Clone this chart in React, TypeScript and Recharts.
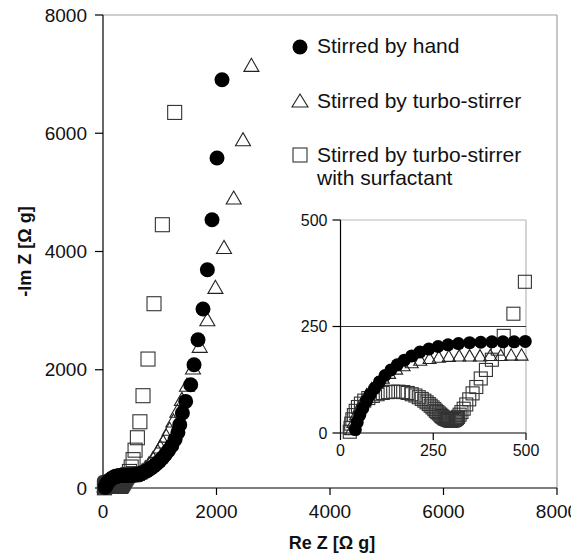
import React from 'react';
import { ScatterChart, Scatter, XAxis, YAxis, ReferenceLine, Legend } from 'recharts';

const FONT = '"Liberation Sans", Arial, Helvetica, sans-serif';

// ---- ticks & text ----
const mainXTicks = [0, 2000, 4000, 6000, 8000];
const mainYTicks = [0, 2000, 4000, 6000, 8000];
const insetTicks = [0, 250, 500];
const xTitle = 'Re Z [Ω g]';
const yTitle = '-Im Z [Ω g]';
const legendHand = 'Stirred by hand';
const legendTurbo = 'Stirred by turbo-stirrer';
const legendSurf1 = 'Stirred by turbo-stirrer';
const legendSurf2 = 'with surfactant';

// ---- Stirred by hand (filled circles) ----
const handRe = [
  40, 45, 52, 60, 70, 80, 92, 105, 120, 136, 153, 172, 192, 214, 238, 263, 290, 318, 348, 378, 408, 438, 468, 498,
  530, 565, 600, 640, 680, 720, 762, 805, 850, 897, 945, 995, 1047, 1100, 1155, 1212, 1270, 1320, 1352, 1399, 1457,
  1545, 1604, 1674, 1762, 1839, 1921, 2009, 2097,
];
const handIm = [
  8, 25, 42, 58, 75, 90, 105, 120, 135, 148, 160, 171, 181, 190, 197, 203, 207, 210, 212, 213, 214, 214, 214, 215,
  218, 222, 228, 237, 250, 266, 286, 310, 338, 371, 410, 455, 507, 567, 636, 715, 820, 940, 1070, 1268, 1465,
  1747, 2085, 2508, 3027, 3692, 4537, 5581, 6905,
];

// ---- Stirred by turbo-stirrer (open triangles) ----
const turboRe = [
  30, 35, 42, 50, 60, 71, 84, 98, 114, 131, 150, 170, 192, 215, 240, 265, 292, 320, 348, 376, 404, 432, 460, 488,
  520, 555, 595, 640, 690, 746, 810, 882, 965, 1010, 1060, 1115, 1175, 1240, 1310, 1390, 1480, 1586, 1704, 1839,
  1981, 2132, 2303, 2467, 2615,
];
const turboIm = [
  5, 22, 40, 56, 72, 87, 101, 114, 126, 137, 147, 155, 162, 168, 172, 175, 177, 178, 178, 178, 179, 179, 180, 180,
  182, 186, 200, 226, 264, 315, 383, 472, 592, 665, 750, 850, 965, 1105, 1270, 1470, 1710, 2001, 2368, 2818,
  3365, 4040, 4876, 5862, 7120,
];

// ---- Stirred by turbo-stirrer with surfactant (open squares) ----
const surfRe = [
  25, 27, 29, 32, 36, 41, 47, 55, 64, 75, 87, 100, 114, 128, 142, 156, 169, 181, 192, 202, 211, 219, 226, 232,
  238, 243, 248, 253, 257, 261, 265, 269, 272, 275, 278, 281, 284, 287, 290, 293, 296, 299, 302, 305, 308, 311,
  314, 317, 321, 326, 332, 339, 347, 356, 366, 378, 392, 408, 424, 440, 466, 497,
  530, 565, 606, 650, 705, 793, 899, 1046, 1263,
];
const surfIm = [
  3, 12, 22, 32, 42, 52, 61, 69, 76, 82, 87, 91, 94, 96, 97, 97, 96, 94, 91, 88, 84, 80, 76, 72,
  68, 64, 60, 56, 52, 49, 46, 43, 40, 38, 36, 34, 33, 32, 31, 30, 29, 29, 29, 30, 31, 33,
  35, 38, 43, 49, 57, 67, 79, 93, 108, 128, 148, 172, 198, 228, 280, 355,
  480, 640, 850, 1120, 1561, 2181, 3117, 4453, 6352,
];

const zip = (xs: number[], ys: number[]) => xs.map((x, i) => ({ x, y: ys[i] }));
const handData = zip(handRe, handIm);
const turboData = zip(turboRe, turboIm);
const surfData = zip(surfRe, surfIm);
const inInset = (d: { x: number; y: number }) => d.x <= 500 && d.y <= 500;
const handInset = handData.filter(inInset);
const turboInset = turboData.filter(inInset);
const surfInset = surfData.filter(inInset);

// ---- marker shapes ----
const makeCircle = (d: number) => (p: any) => <circle cx={p.cx} cy={p.cy} r={d / 2} fill="#000" />;
const makeTriangle = (w: number) => (p: any) => {
  const h = w * 0.87;
  const pts = `${p.cx},${p.cy - (2 * h) / 3} ${p.cx - w / 2},${p.cy + h / 3} ${p.cx + w / 2},${p.cy + h / 3}`;
  return <polygon points={pts} fill="none" stroke="#222" strokeWidth={1.1} />;
};
const makeSquare = (s: number) => (p: any) => (
  <rect x={p.cx - s / 2} y={p.cy - s / 2} width={s} height={s} fill="none" stroke="#333" strokeWidth={1.1} />
);

const tickStyle = (size: number) => ({ fontSize: size, fill: '#111', fontFamily: FONT });

const LegendBox = () => (
  <svg width={285} height={170} style={{ overflow: 'visible', fontFamily: FONT }}>
    <circle cx={10} cy={17} r={7.5} fill="#000" />
    <text x={27} y={23} fontSize={21} fill="#111">{legendHand}</text>
    <polygon points="10,64 2,77 18,77" fill="none" stroke="#222" strokeWidth={1.1} />
    <text x={27} y={78} fontSize={21} fill="#111">{legendTurbo}</text>
    <rect x={3} y={118} width={14} height={14} fill="none" stroke="#333" strokeWidth={1.1} />
    <text x={27} y={132} fontSize={21} fill="#111">{legendSurf1}</text>
    <text x={27} y={155} fontSize={21} fill="#111">{legendSurf2}</text>
  </svg>
);

export default function App() {
  return (
    <div style={{ position: 'relative', width: 571, height: 547, fontFamily: FONT }}>
      <style>{`.recharts-surface { overflow: visible !important; } .recharts-wrapper { overflow: visible !important; }`}</style>
      <ScatterChart width={571} height={547} margin={{ top: 7, right: 22, bottom: 0, left: 0 }}>
        <XAxis
          type="number"
          dataKey="x"
          domain={[0, 8000]}
          ticks={mainXTicks}
          interval={0}
          height={67}
          tickSize={7}
          tickMargin={10}
          axisLine={{ stroke: '#000', strokeWidth: 1.2 }}
          tickLine={{ stroke: '#000', strokeWidth: 1.2 }}
          tick={tickStyle(19)}
          label={{ value: xTitle, position: 'insideBottom', offset: 6, dx: 2, style: { fontSize: 18, fontWeight: 'bold', fill: '#111', fontFamily: FONT } }}
        />
        <YAxis
          type="number"
          dataKey="y"
          domain={[0, 8000]}
          ticks={mainYTicks}
          interval={0}
          width={95}
          tickSize={8}
          tickMargin={8}
          axisLine={{ stroke: '#000', strokeWidth: 1.2 }}
          tickLine={{ stroke: '#000', strokeWidth: 1.2 }}
          tick={tickStyle(19)}
          label={{ value: yTitle, angle: -90, position: 'center', dx: -31, style: { fontSize: 18, fontWeight: 'bold', fill: '#111', fontFamily: FONT } }}
        />
        <ReferenceLine y={8000} stroke="#a0a0a0" strokeWidth={1.2} />
        <ReferenceLine x={8000} stroke="#a0a0a0" strokeWidth={1.2} />
        <Scatter name={legendTurbo} data={turboData} shape={makeTriangle(15)} isAnimationActive={false} />
        <Scatter name={legendSurf1} data={surfData} shape={makeSquare(14)} isAnimationActive={false} />
        <Scatter name={legendHand} data={handData} shape={makeCircle(15)} isAnimationActive={false} />
        <Legend
          layout="vertical"
          align="center"
          verticalAlign="middle"
          content={() => <LegendBox />}
          wrapperStyle={{ position: 'absolute', top: 22, left: 282, width: 285, height: 170 }}
        />
      </ScatterChart>

      <div style={{ position: 'absolute', left: 290, top: 200 }}>
        <ScatterChart width={250} height={260} margin={{ top: 12, right: 22, bottom: 0, left: 0 }}>
          <XAxis
            type="number"
            dataKey="x"
            domain={[0, 500]}
            ticks={insetTicks}
            interval={0}
            height={35}
            tickSize={7}
            tickMargin={5}
            axisLine={{ stroke: '#000', strokeWidth: 1.2 }}
            tickLine={{ stroke: '#000', strokeWidth: 1.2 }}
            tick={tickStyle(16)}
          />
          <YAxis
            type="number"
            dataKey="y"
            domain={[0, 500]}
            ticks={insetTicks}
            interval={0}
            width={42.5}
            tickSize={8}
            tickMargin={5}
            axisLine={{ stroke: '#000', strokeWidth: 1.2 }}
            tickLine={{ stroke: '#000', strokeWidth: 1.2 }}
            tick={tickStyle(16)}
          />
          <ReferenceLine y={500} stroke="#b8b8b8" strokeWidth={1.2} />
          <ReferenceLine x={500} stroke="#b8b8b8" strokeWidth={1.2} />
          <ReferenceLine y={250} stroke="#333" strokeWidth={1.2} />
          <Scatter data={turboInset} shape={makeTriangle(13)} isAnimationActive={false} />
          <Scatter data={surfInset} shape={makeSquare(13)} isAnimationActive={false} />
          <Scatter data={handInset} shape={makeCircle(13)} isAnimationActive={false} />
        </ScatterChart>
      </div>
    </div>
  );
}
